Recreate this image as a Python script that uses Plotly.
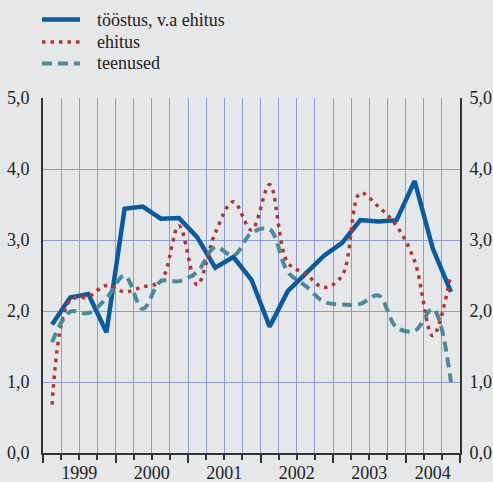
import plotly.graph_objects as go

# ---- data (quarterly, 1999 Q1 .. 2004 Q3) ----
quarters = ["1999 I", "1999 II", "1999 III", "1999 IV",
            "2000 I", "2000 II", "2000 III", "2000 IV",
            "2001 I", "2001 II", "2001 III", "2001 IV",
            "2002 I", "2002 II", "2002 III", "2002 IV",
            "2003 I", "2003 II", "2003 III", "2003 IV",
            "2004 I", "2004 II", "2004 III"]
toostus = [1.81, 2.19, 2.24, 1.70, 3.44, 3.47, 3.30, 3.31, 3.04, 2.61, 2.76, 2.44,
           1.78, 2.28, 2.53, 2.78, 2.96, 3.28, 3.26, 3.28, 3.83, 2.88, 2.27]
ehitus = [0.68, 2.15, 2.20, 2.36, 2.27, 2.34, 2.42, 3.20, 2.37, 3.10, 3.54, 3.14,
          3.78, 2.68, 2.52, 2.33, 2.50, 3.66, 3.47, 3.20, 2.70, 1.65, 2.52]
teenused = [1.56, 1.99, 1.97, 2.18, 2.50, 2.03, 2.42, 2.42, 2.55, 2.90, 2.78, 3.10,
            3.15, 2.55, 2.35, 2.13, 2.09, 2.10, 2.22, 1.77, 1.72, 2.03, 1.00]
series_names = ["tööstus, v.a ehitus", "ehitus", "teenused"]
years = ["1999", "2000", "2001", "2002", "2003", "2004"]
y_ticks = [0, 1, 2, 3, 4, 5]
y_ticktext = ["0,0", "1,0", "2,0", "3,0", "4,0", "5,0"]

n = len(quarters)
x = list(range(n))
# year label positions: centre of the visible quarters of each year
year_pos = []
for yr in years:
    idx = [k for k, q in enumerate(quarters) if q.startswith(yr)]
    year_pos.append((idx[0] + idx[-1]) / 2)
year_bounds = [k - 0.5 for k, q in enumerate(quarters) if q.endswith(" I")] + [n - 0.5]
quarter_bounds = [k - 0.5 for k in range(n + 1)]

W, H = 493, 482
ML, MR, MT, MB = 43, 33, 98, 29
PW, PH = W - ML - MR, H - MT - MB

BG = "#e6e7e9"
GRID = "#8f9bd3"
FONT = "Liberation Serif"
FS = 18
styles = [
    dict(color="#0a5aa2", width=4.5, dash="solid", shape="linear"),
    dict(color="#b5352f", width=3.5, dash="3.5px,5px", shape="spline"),
    dict(color="#4a8b9b", width=4, dash="10px,6px", shape="spline"),
]

fig = go.Figure()
for name, vals, st in zip(series_names, [toostus, ehitus, teenused], styles):
    fig.add_trace(go.Scatter(x=x, y=vals, name=name, mode="lines", line=st))
# invisible traces to hold secondary axes
fig.add_trace(go.Scatter(x=[x[0]], y=[0], yaxis="y2", mode="markers",
                         marker=dict(opacity=0), showlegend=False, hoverinfo="skip"))
fig.add_trace(go.Scatter(x=[x[0]], y=[0], xaxis="x2", mode="markers",
                         marker=dict(opacity=0), showlegend=False, hoverinfo="skip"))

# legend drawn in paper coordinates (pixel layout converted)
def px_x(p):
    return (p - ML) / PW

def px_y(p):
    return (H - MB - p) / PH

leg_rows = [19.5, 42, 63.5]
for name, st, ry in zip(series_names, styles, leg_rows):
    fig.add_shape(type="line", xref="paper", yref="paper",
                  x0=px_x(42), x1=px_x(80), y0=px_y(ry), y1=px_y(ry),
                  line=dict(color=st["color"], width=st["width"], dash=st["dash"]))
    fig.add_annotation(xref="paper", yref="paper", x=px_x(95), y=px_y(ry),
                       xanchor="left", yanchor="middle", showarrow=False, text=name,
                       font=dict(size=FS, family=FONT, color="#222222"))

fig.update_layout(
    width=W, height=H,
    margin=dict(l=ML, r=MR, t=MT, b=MB),
    paper_bgcolor=BG, plot_bgcolor=BG,
    font=dict(family=FONT, size=FS, color="#222222"),
    showlegend=False,
    xaxis=dict(range=[-0.5, n - 0.5], tickmode="array", tickvals=year_pos, ticktext=years,
               ticks="", showgrid=False, zeroline=False, automargin=False,
               showline=True, linecolor="#333333", linewidth=2,
               tickfont=dict(size=FS, family=FONT), ticklabelstandoff=2,
               minor=dict(tickmode="array", tickvals=quarter_bounds, ticks="outside",
                          ticklen=5, tickwidth=1.5, tickcolor="#333333",
                          showgrid=True, gridcolor=GRID, gridwidth=1)),
    xaxis2=dict(range=[-0.5, n - 0.5], overlaying="x", anchor="y", side="bottom",
                tickmode="array", tickvals=year_bounds, ticks="outside", ticklen=9,
                tickwidth=1.5, tickcolor="#333333", showticklabels=False,
                showgrid=False, zeroline=False, automargin=False),
    yaxis=dict(range=[0, 5], tickmode="array", tickvals=y_ticks, ticktext=y_ticktext,
               showgrid=True, gridcolor=GRID, gridwidth=1, zeroline=False, automargin=False,
               showline=True, linecolor="#333333", linewidth=2, ticks="",
               ticklabelstandoff=8, tickfont=dict(size=FS, family=FONT)),
    yaxis2=dict(range=[0, 5], overlaying="y", side="right", tickmode="array",
                tickvals=y_ticks, ticktext=y_ticktext, showgrid=False, zeroline=False,
                automargin=False, showline=True, linecolor="#333333", linewidth=2, ticks="",
                ticklabelstandoff=4, tickfont=dict(size=FS, family=FONT)),
)

fig.write_html("out.html", config={"displayModeBar": False},
               post_script="document.body.style.margin='0';document.body.style.background='" + BG + "';")
